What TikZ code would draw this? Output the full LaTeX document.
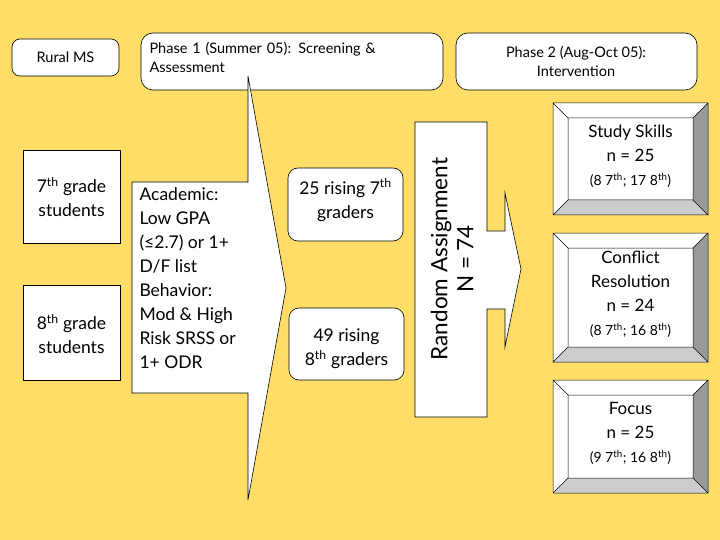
\documentclass[tikz,border=0pt]{standalone}
\usepackage{fontspec}
\setmainfont{Lato}
\begin{document}
\begin{tikzpicture}[x=1pt,y=-1pt,
 wb/.style={draw=black,fill=white,line width=0.6pt},
 rb/.style={wb,rounded corners=8pt},
 big/.style={font=\fontsize{17.5}{24}\selectfont,align=center},
 sm/.style={font=\fontsize{14.5}{19}\selectfont,align=left}]
\fill[fill={rgb,255:red,255;green,221;blue,102}] (0,0) rectangle (720,540);
\useasboundingbox (0,0) rectangle (720,540);
% top boxes
\draw[rb] (12,39) rectangle (119,76); \node[sm] (rural) at (65.5,57.5) {Rural MS};
\draw[rb,rounded corners=12pt] (141,33) rectangle (443,90);
\node[sm,anchor=north west,text width=280pt] (p1) at (146,39) {Phase 1 (Summer 05): Screening \&\\Assessment};
\draw[rb,rounded corners=12pt] (456,33) rectangle (697,90);
\node[sm,align=center] (p2) at (576,61) {Phase 2 (Aug-Oct 05):\\Intervention};
% grade boxes
\draw[wb] (23,150) rectangle (120,243); \node[big] (g7) at (71.5,197) {7\textsuperscript{th} grade\\students};
\draw[wb] (23,285) rectangle (120,380); \node[big] (g8) at (71.5,334) {8\textsuperscript{th} grade\\students};
% big arrow
\draw[wb] (132,182)--(248,182)--(248,76)--(286,288)--(248,500)--(248,393)--(132,393)--cycle;
\node[big,align=left,anchor=north west] (crit) at (136,184) {Academic:\\Low GPA\\(≤2.7) or 1+\\D/F list\\Behavior:\\Mod \& High\\Risk SRSS or\\1+ ODR};
% rising boxes
\draw[rb,rounded corners=10pt] (288,168) rectangle (403,241); \node[big] (r7) at (345.5,200) {25 rising 7\textsuperscript{th}\\graders};
\draw[rb,rounded corners=10pt] (289,308) rectangle (404,380); \node[big] (r8) at (346.5,349) {49 rising\\8\textsuperscript{th} graders};
% random assignment
\draw[wb] (415,122)--(487,122)--(487,231)--(505,231)--(505,193)--(521,269)--(505,347)--(505,309)--(487,309)--(487,417)--(415,417)--cycle;
\node[big,rotate=90,font=\fontsize{22.5}{26}\selectfont] (ra) at (452,259) {Random Assignment\\N = 74};
% bevel boxes
\foreach \t/\b/\n/\txt in {103/215/ss/{Study Skills\\n = 25\\{\fontsize{14}{18}\selectfont(8 7\textsuperscript{th}; 17 8\textsuperscript{th})}},
 233/362/cr/{Conflict\\Resolution\\n = 24\\{\fontsize{14}{18}\selectfont(8 7\textsuperscript{th}; 16 8\textsuperscript{th})}},
 380/493/fo/{Focus\\n = 25\\{\fontsize{14}{18}\selectfont(9 7\textsuperscript{th}; 16 8\textsuperscript{th})}}}{
 \fill[white] (553,\t) rectangle (708,\b);
 \fill[gray!80] (708,\t)--(708,\b)--(693,\b-15)--(693,\t+15)--cycle;
 \fill[gray!40] (553,\b)--(708,\b)--(693,\b-15)--(568,\b-15)--cycle;
 \draw[line width=0.5pt] (553,\t) rectangle (708,\b) (568,\t+15) rectangle (693,\b-15)
  (553,\t)--(568,\t+15) (708,\t)--(693,\t+15) (553,\b)--(568,\b-15) (708,\b)--(693,\b-15);
 \node[big,font=\fontsize{17}{24}\selectfont] (\n) at (630.5,{(\t+\b)/2-3}) {\txt};
}
\end{tikzpicture}
\end{document}
